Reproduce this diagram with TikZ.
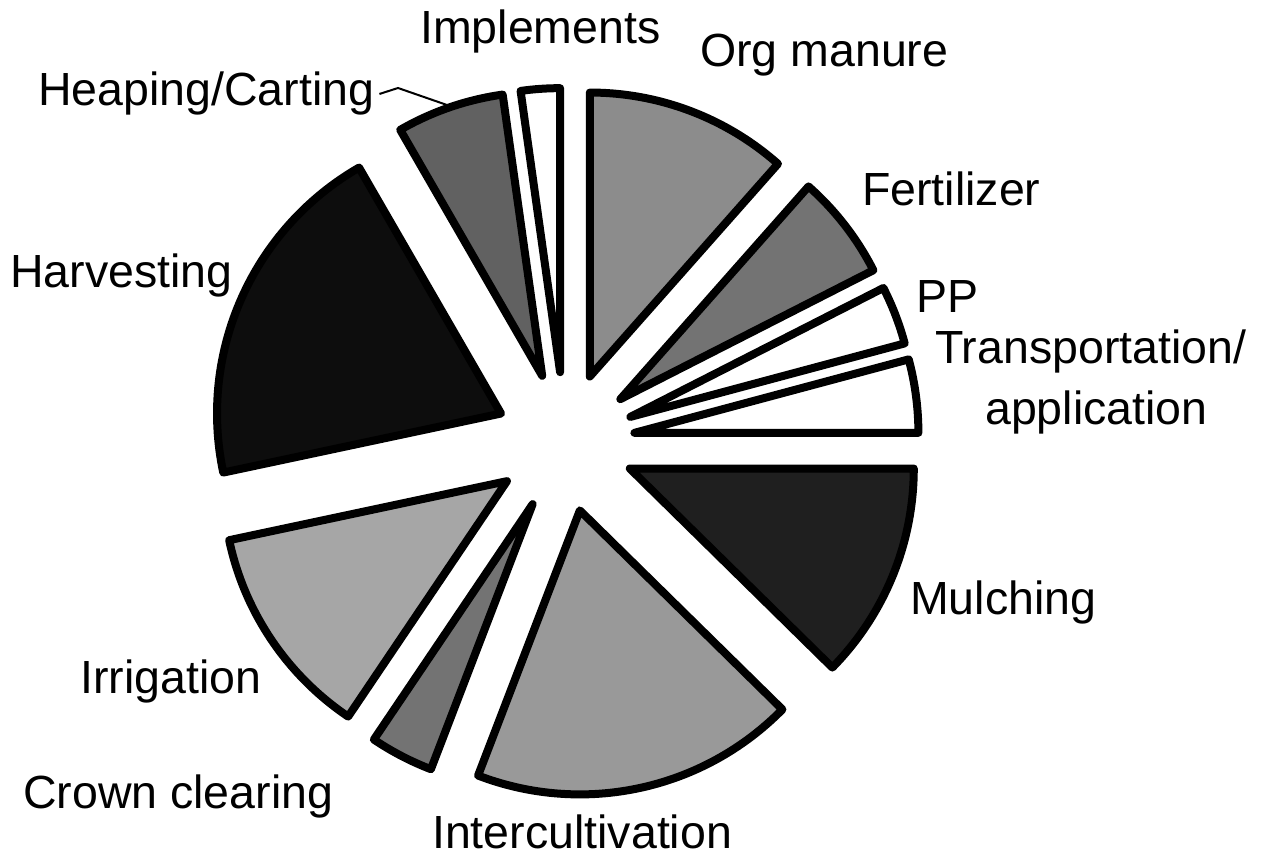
\documentclass[tikz,border=0pt]{standalone}
\usepackage{fontspec}
\setmainfont{Liberation Sans}

% one exploded wedge: start angle, end angle, fill
\newcommand{\pieslice}[3]{%
  \pgfmathsetmacro{\midangle}{(#1+#2)/2}
  \filldraw[slice, fill=#3] (\midangle:70) -- ++(#1:284) arc[start angle=#1, end angle=#2, radius=284] -- cycle;}

\begin{document}
\begin{tikzpicture}[x=1pt, y=1pt,
    slice/.style={draw=black, line width=8pt, line join=round},
    lbl/.style={anchor=base west, inner sep=0pt, font=\fontsize{46.5}{56}\selectfont},
    leader/.style={line width=2pt}]
  \useasboundingbox (-565,-420) rectangle (699,442);

  % wedges, clockwise from the top
  \pieslice{90}{48.5}{black!45}     % Org manure
  \pieslice{48.5}{27}{black!55}     % Fertilizer
  \pieslice{27}{15}{white}          % PP
  \pieslice{15}{0}{white}           % Transportation
  \pieslice{0}{-44.5}{black!88}     % Mulching
  \pieslice{-44.5}{-111}{black!40}  % Intercultivation
  \pieslice{-111}{-124}{black!55}   % Crown clearing
  \pieslice{-124}{-168}{black!35}   % Irrigation
  \pieslice{-168}{-240}{black!95}   % Harvesting
  \pieslice{120}{98}{black!62}      % Heaping/Carting
  \pieslice{98}{90}{white}          % Implements

  % labels
  \node[lbl] (implements) at (-145,398) {Implements};
  \node[lbl] (orgmanure) at (135,375) {Org manure};
  \node[lbl] (heaping) at (-527,336) {Heaping/Carting};
  \node[lbl] (fertilizer) at (297,236) {Fertilizer};
  \node[lbl] (pp) at (351,129) {PP};
  \node[lbl] (transport) at (370,78) {Transportation/};
  \node[lbl] (application) at (420,17) {application};
  \node[lbl] (mulching) at (345,-172) {Mulching};
  \node[lbl] (harvesting) at (-555,154) {Harvesting};
  \node[lbl] (irrigation) at (-485,-251) {Irrigation};
  \node[lbl] (crown) at (-542,-366) {Crown clearing};
  \node[lbl] (intercult) at (-133,-406) {Intercultivation};

  % leader for Heaping/Carting
  \coordinate (heapbend) at (-167,354);
  \coordinate (heaptip) at (-118,337);
  \draw[leader] ([xshift=5pt]heaping.east) -- (heapbend) -- (heaptip);
\end{tikzpicture}
\end{document}
